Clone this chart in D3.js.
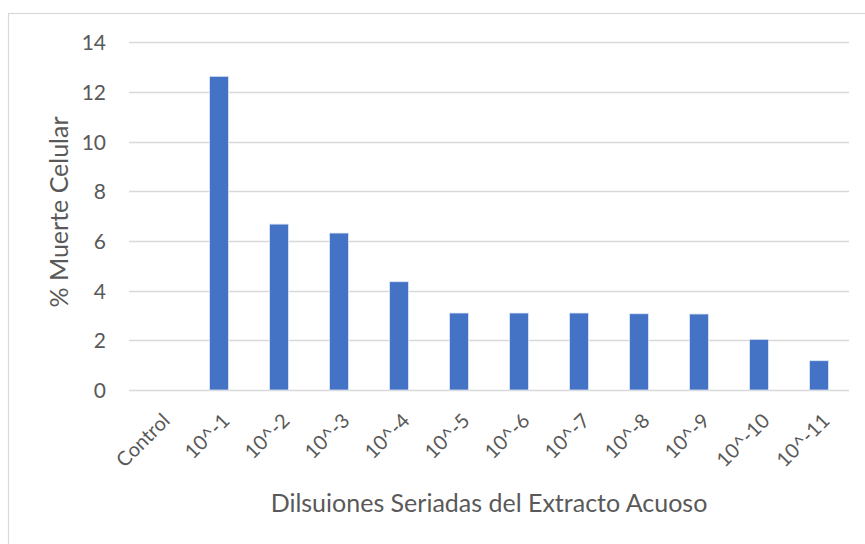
<!DOCTYPE html>
<html>
<head>
<meta charset="utf-8">
<script src="https://cdn.jsdelivr.net/npm/d3@7"></script>
<style>
  html, body { margin: 0; padding: 0; background: #fff; }
  svg { display: block; }
</style>
</head>
<body>
<svg id="chart" width="865" height="544"></svg>
<script>
// Serial dilutions of the aqueous extract and the cell death they produced
const categories = ["Control", "10^-1", "10^-2", "10^-3", "10^-4", "10^-5",
                    "10^-6", "10^-7", "10^-8", "10^-9", "10^-10", "10^-11"];
const muerteCelular = [0, 12.63, 6.68, 6.32, 4.36, 3.10, 3.10, 3.10, 3.07, 3.06, 2.04, 1.18];
const yTicks = [0, 2, 4, 6, 8, 10, 12, 14];

const font = "Lato, 'Open Sans', sans-serif";
const textColor = "#595959";

const svg = d3.select("#chart");

// outer chart frame (continues past the right and bottom edges)
svg.append("rect")
  .attr("x", 8.5).attr("y", 13.5)
  .attr("width", 900).attr("height", 600)
  .attr("fill", "#fff").attr("stroke", "#d9d9d9").attr("stroke-width", 1.2);

const plot = { left: 129, right: 849, top: 42.3, bottom: 390 };

const x = d3.scaleBand()
  .domain(categories)
  .range([plot.left, plot.right])
  .paddingInner(0.685)
  .paddingOuter(0.3425);

const y = d3.scaleLinear()
  .domain([0, 14])
  .range([plot.bottom, plot.top]);

// horizontal gridlines
svg.append("g")
  .selectAll("line")
  .data(yTicks)
  .join("line")
  .attr("x1", plot.left).attr("x2", plot.right)
  .attr("y1", d => Math.round(y(d)) + 0.5)
  .attr("y2", d => Math.round(y(d)) + 0.5)
  .attr("stroke", "#d9d9d9").attr("stroke-width", 1.4);

// y axis tick labels
const yAxis = d3.axisLeft(y).tickValues(yTicks).tickSize(0).tickPadding(0);
const gy = svg.append("g")
  .attr("transform", `translate(${plot.left - 23},0)`)
  .call(yAxis);
gy.select(".domain").remove();
gy.selectAll("text")
  .attr("font-family", font).attr("font-size", 21)
  .attr("fill", textColor)
  .attr("dy", "0.36em");

// bars
svg.append("g")
  .selectAll("rect")
  .data(categories.map((c, i) => ({ c, v: muerteCelular[i] })))
  .join("rect")
  .attr("x", d => x(d.c))
  .attr("y", d => y(d.v))
  .attr("width", x.bandwidth())
  .attr("height", d => y(0) - y(d.v))
  .attr("fill", "#4472c4")
  .attr("stroke", "#dde6f5").attr("stroke-width", 0.8);

// x axis category labels, rotated
const xAxis = d3.axisBottom(x).tickSize(0).tickPadding(0);
const gx = svg.append("g")
  .attr("transform", `translate(0,${plot.bottom})`)
  .call(xAxis);
gx.select(".domain").remove();
gx.selectAll("text")
  .attr("font-family", font).attr("font-size", 20)
  .attr("fill", textColor)
  .attr("text-anchor", "end")
  .attr("dy", 0)
  .attr("transform", "translate(12,32) rotate(-45)");

// axis titles
svg.append("text")
  .attr("x", 489).attr("y", 512)
  .attr("text-anchor", "middle")
  .attr("font-family", font).attr("font-size", 25)
  .attr("fill", textColor)
  .text("Dilsuiones Seriadas del Extracto Acuoso");

svg.append("text")
  .attr("transform", `translate(68,212) rotate(-90)`)
  .attr("text-anchor", "middle")
  .attr("font-family", font).attr("font-size", 25)
  .attr("fill", textColor)
  .text("% Muerte Celular");
</script>
</body>
</html>
